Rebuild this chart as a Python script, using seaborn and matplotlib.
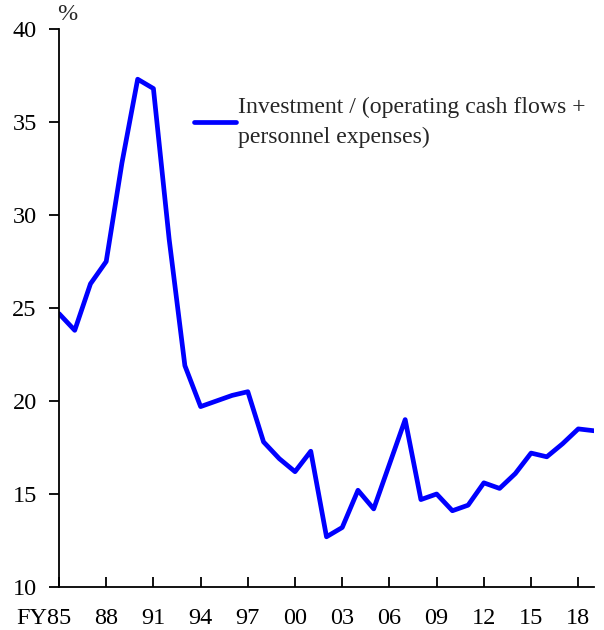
import matplotlib
matplotlib.use("Agg")
import matplotlib.pyplot as plt
import matplotlib.transforms as mtransforms
import seaborn as sns
import pandas as pd

# 投资比率数据（FY1985-FY2019）
years = list(range(1985, 2020))
ratio = [24.7, 23.8, 26.3, 27.5, 32.8, 37.3, 36.8, 28.7, 21.9, 19.7,
         20.0, 20.3, 20.5, 17.8, 16.9, 16.2, 17.3, 12.7, 13.2, 15.2,
         14.2, 16.6, 19.0, 14.7, 15.0, 14.1, 14.4, 15.6, 15.3, 16.1,
         17.2, 17.0, 17.7, 18.5, 18.4]
tick_years = list(range(1985, 2019, 3))
tick_labels = ["FY85", "88", "91", "94", "97", "00", "03", "06", "09", "12", "15", "18"]
series_name = "Investment / (operating cash flows +\npersonnel expenses)"

df = pd.DataFrame({"year": years, "ratio": ratio})

sns.set_style("ticks")
plt.rcParams["font.family"] = ["Liberation Serif", "DejaVu Serif"]

fig = plt.figure(figsize=(6.04, 6.3), dpi=100)
ax = fig.add_axes([59 / 604, 1 - 587 / 630, 535 / 604, 558 / 630])

sns.lineplot(data=df, x="year", y="ratio", color="#0000FF", linewidth=3.4,
             label=series_name, ax=ax)

ax.set_xlim(1985, 2019)
ax.set_ylim(10, 40)
ax.set_yticks([10, 15, 20, 25, 30, 35, 40])
ax.set_xticks(tick_years)
ax.set_xticklabels(tick_labels)
ax.set_xlabel("")
ax.set_ylabel("")

for s in ["top", "right"]:
    ax.spines[s].set_visible(False)
for s in ["left", "bottom"]:
    ax.spines[s].set_color("black")
    ax.spines[s].set_linewidth(1.3)

ax.tick_params(axis="y", direction="out", length=7, width=1.3, labelsize=17.5,
               colors="black", pad=9)
ax.tick_params(axis="x", direction="in", length=7, width=1.3, labelsize=17.5,
               colors="black", pad=15)

# FY85 标签向左偏移，使 "85" 对齐刻度
first = ax.get_xticklabels()[0]
first.set_transform(first.get_transform() +
                    mtransforms.ScaledTranslation(-0.15, 0, fig.dpi_scale_trans))

ax.text(-0.003, 1.008, "%", transform=ax.transAxes, fontsize=17.5,
        ha="left", va="bottom")

leg = ax.legend(loc="upper left", bbox_to_anchor=(0.235, 0.895), frameon=False,
                fontsize=17.1, handlelength=1.75, handletextpad=0.1,
                labelspacing=0.2, borderaxespad=0)
for t in leg.get_texts():
    t.set_linespacing(1.5)

fig.savefig("out.png", dpi=100)
